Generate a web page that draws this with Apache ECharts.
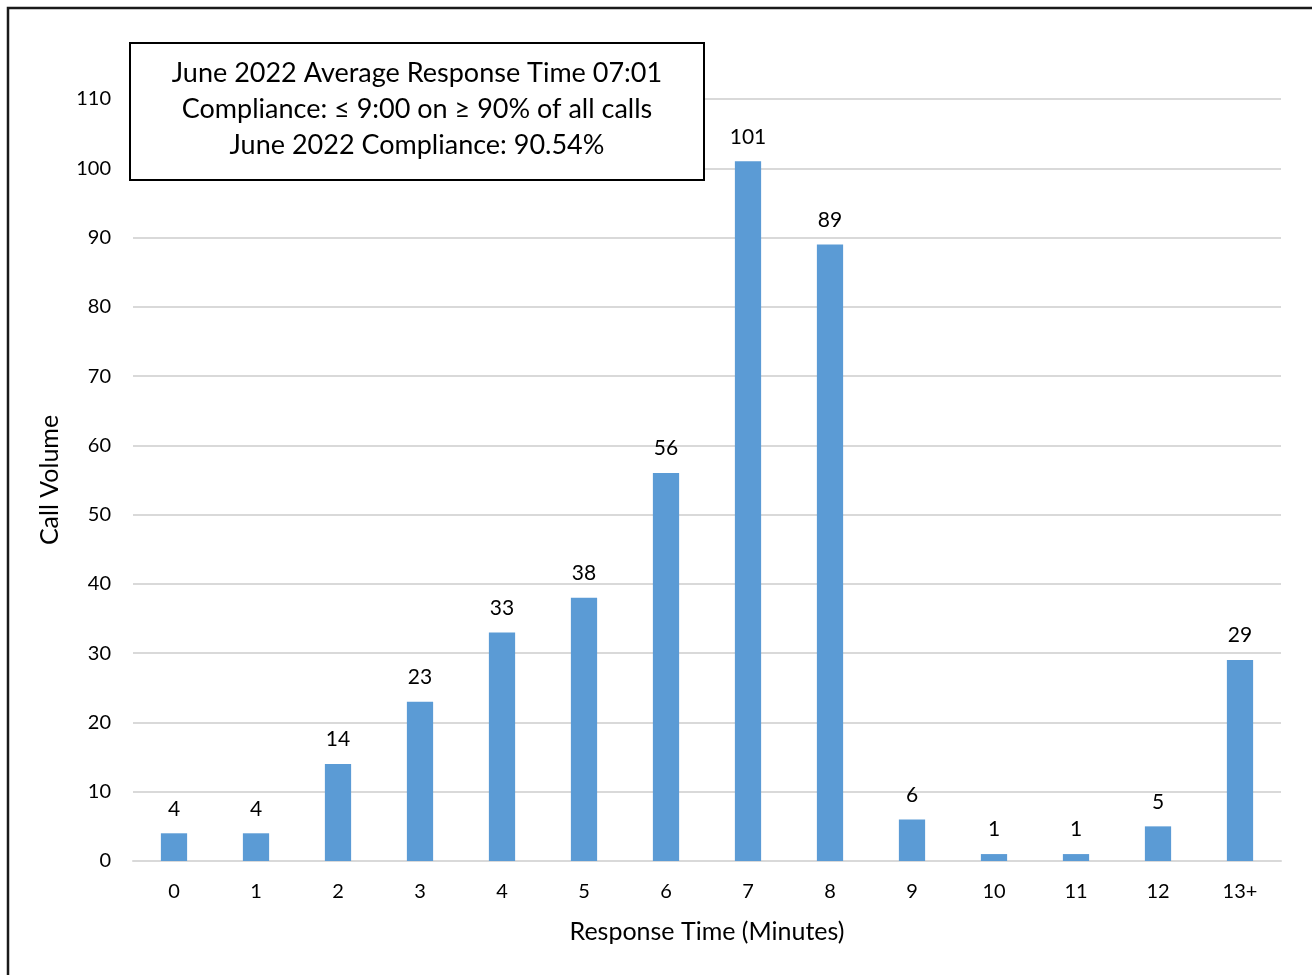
<!DOCTYPE html>
<html>
<head>
<meta charset="utf-8">
<script src="https://cdn.jsdelivr.net/npm/echarts@6/dist/echarts.min.js"></script>
<style>
  html, body { margin: 0; padding: 0; background: #fff; }
  #chart { width: 1312px; height: 975px; }
</style>
</head>
<body>
<div id="chart"></div>
<script>
// Response time buckets (minutes) and call counts
const categories = ['0', '1', '2', '3', '4', '5', '6', '7', '8', '9', '10', '11', '12', '13+'];
const callVolume = [4, 4, 14, 23, 33, 38, 56, 101, 89, 6, 1, 1, 5, 29];
const yTicks = { min: 0, max: 110, interval: 10 };
const noteLines = [
  'June 2022 Average Response Time 07:01',
  'Compliance: \u2264 9:00 on \u2265 90% of all calls',
  'June 2022 Compliance: 90.54%'
];

const FONT = 'Lato, "Open Sans", sans-serif';
const chart = echarts.init(document.getElementById('chart'), null, { renderer: 'canvas' });

chart.setOption({
  backgroundColor: '#ffffff',
  animation: false,
  grid: { left: 133, right: 31, top: 99, bottom: 114, containLabel: false },
  xAxis: {
    type: 'category',
    data: categories,
    name: 'Response Time (Minutes)',
    nameLocation: 'middle',
    nameGap: 58,
    nameTextStyle: { fontFamily: FONT, fontSize: 25, color: '#000' },
    axisLine: { lineStyle: { color: '#d9d9d9', width: 2 } },
    axisTick: { show: false },
    axisLabel: { fontFamily: FONT, fontSize: 20, color: '#000', margin: 21 }
  },
  yAxis: {
    type: 'value',
    min: yTicks.min,
    max: yTicks.max,
    interval: yTicks.interval,
    name: 'Call Volume',
    nameLocation: 'middle',
    nameGap: 71,
    nameTextStyle: { fontFamily: FONT, fontSize: 25, color: '#000' },
    axisLine: { show: false },
    axisTick: { show: false },
    axisLabel: { fontFamily: FONT, fontSize: 20, color: '#000', margin: 22 },
    splitLine: { lineStyle: { color: '#d9d9d9', width: 2 } }
  },
  series: [{
    type: 'bar',
    data: callVolume,
    barWidth: '32%',
    itemStyle: { color: '#5b9bd5' },
    label: {
      show: true,
      position: 'top',
      distance: 14,
      fontFamily: FONT,
      fontSize: 21,
      color: '#000'
    }
  }],
  graphic: [
    // outer frame
    {
      type: 'rect',
      shape: { x: 8, y: 8, width: 1320, height: 1000 },
      style: { fill: 'none', stroke: '#1a1a1a', lineWidth: 2.5 },
      silent: true
    },
    // annotation box
    {
      type: 'rect',
      shape: { x: 130, y: 43, width: 574, height: 137 },
      style: { fill: '#ffffff', stroke: '#000000', lineWidth: 2 },
      z: 100
    },
    {
      type: 'text',
      x: 417,
      y: 109,
      z: 101,
      style: {
        text: noteLines.join('\n'),
        fontFamily: FONT,
        fontSize: 27,
        lineHeight: 36,
        fill: '#000',
        align: 'center',
        verticalAlign: 'middle'
      }
    }
  ]
});
</script>
</body>
</html>
